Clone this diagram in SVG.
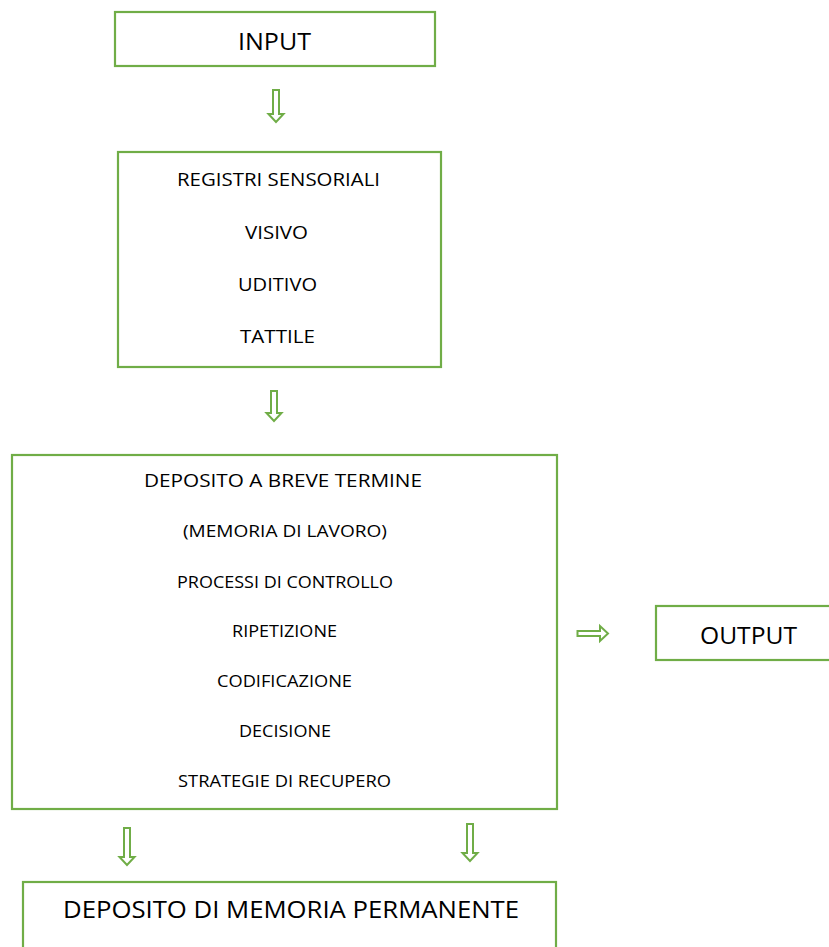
<svg xmlns="http://www.w3.org/2000/svg" width="829" height="947" viewBox="0 0 829 947">
  <style>
    .box { fill: #ffffff; stroke: #70AD47; stroke-width: 2.2; }
    .arrow { fill: #ffffff; stroke: #70AD47; stroke-width: 2; stroke-linejoin: miter; }
    text { font-family: "Open Sans", "Liberation Sans", sans-serif; fill: #000000; text-anchor: middle; }
    .big { font-size: 24px; }
    .mid { font-size: 18px; }
    .head { font-size: 19px; }
    .small { font-size: 17px; }
  </style>
  <rect width="829" height="947" fill="#ffffff"/>

  <g id="input">
    <rect class="box" x="115" y="12" width="320" height="54"/>
    <text class="big" x="274.5" y="50" textLength="73" lengthAdjust="spacingAndGlyphs">INPUT</text>
  </g>

  <g id="registri-sensoriali">
    <rect class="box" x="118" y="152" width="323" height="215"/>
    <text class="mid" x="278.5" y="186" textLength="203" lengthAdjust="spacingAndGlyphs">REGISTRI SENSORIALI</text>
    <text class="mid" x="276.5" y="239" textLength="63" lengthAdjust="spacingAndGlyphs">VISIVO</text>
    <text class="mid" x="277.5" y="291" textLength="79" lengthAdjust="spacingAndGlyphs">UDITIVO</text>
    <text class="mid" x="277.5" y="343" textLength="75" lengthAdjust="spacingAndGlyphs">TATTILE</text>
  </g>

  <g id="deposito-breve-termine">
    <rect class="box" x="12" y="455" width="545" height="354"/>
    <text class="head" x="283" y="487" textLength="278" lengthAdjust="spacingAndGlyphs">DEPOSITO A BREVE TERMINE</text>
    <text class="small" x="285" y="537" textLength="204" lengthAdjust="spacingAndGlyphs">(MEMORIA DI LAVORO)</text>
    <text class="small" x="285" y="588" textLength="216" lengthAdjust="spacingAndGlyphs">PROCESSI DI CONTROLLO</text>
    <text class="small" x="284.5" y="637" textLength="105" lengthAdjust="spacingAndGlyphs">RIPETIZIONE</text>
    <text class="small" x="284.5" y="687" textLength="135" lengthAdjust="spacingAndGlyphs">CODIFICAZIONE</text>
    <text class="small" x="285" y="737" textLength="92" lengthAdjust="spacingAndGlyphs">DECISIONE</text>
    <text class="small" x="284.5" y="787" textLength="213" lengthAdjust="spacingAndGlyphs">STRATEGIE DI RECUPERO</text>
  </g>

  <g id="output">
    <rect class="box" x="656" y="606" width="190" height="54"/>
    <text class="big" x="748.5" y="644" textLength="97" lengthAdjust="spacingAndGlyphs">OUTPUT</text>
  </g>

  <g id="deposito-memoria-permanente">
    <rect class="box" x="23" y="882" width="533" height="90"/>
    <text class="big" x="291" y="918" textLength="456" lengthAdjust="spacingAndGlyphs">DEPOSITO DI MEMORIA PERMANENTE</text>
  </g>

  <!-- hollow block arrows between the stages -->
  <g id="connectors">
    <path class="arrow" d="M273,90 H279 V114 H283.5 L276,122 L268.5,114 H273 Z"/>
    <path class="arrow" d="M271,391 H277 V413 H281.5 L274,421 L266.5,413 H271 Z"/>
    <path class="arrow" d="M577.5,631 H600 V626 L608,633.5 L600,641 V636 H577.5 Z"/>
    <path class="arrow" d="M124,828 H130 V857 H134.5 L127,865 L119.5,857 H124 Z"/>
    <path class="arrow" d="M467,824 H473 V853 H477.5 L470,861 L462.5,853 H467 Z"/>
  </g>
</svg>
